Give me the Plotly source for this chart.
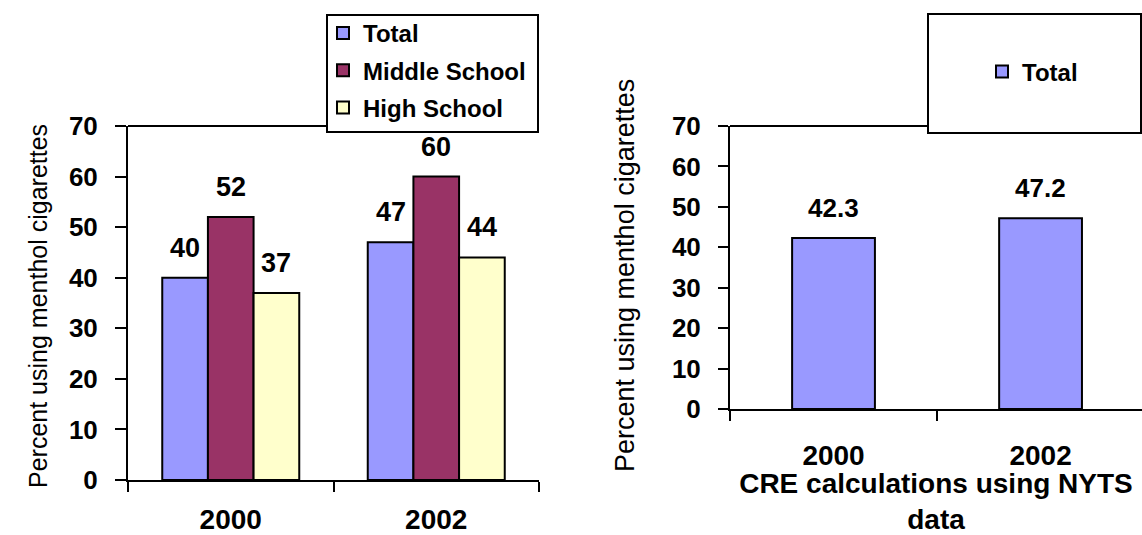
import plotly.graph_objects as go

# ---- data ----
years = ["2000", "2002"]
total = [40, 47]
middle_school = [52, 60]
high_school = [37, 44]
cre_years = ["2000", "2002"]
cre_total = [42.3, 47.2]

series = [("Total", total, "#9999FF"),
          ("Middle School", middle_school, "#993366"),
          ("High School", high_school, "#FFFFCC")]

W, H = 1142, 535
FONT = "Liberation Sans, Arial, sans-serif"

def px_x(x):
    return x / W

def px_y(y):
    return (H - y) / H

fig = go.Figure()

BARGAP = 1 / 3
n = len(series)
bw = (1 - BARGAP) / n
for k, (name, vals, color) in enumerate(series):
    fig.add_trace(go.Bar(
        x=years, y=vals, name=f"<b>{name}</b>", xaxis="x", yaxis="y",
        legend="legend", legendgroup=name,
        marker=dict(color=color, line=dict(color="black", width=2)),
    ))
    off = (k - (n - 1) / 2) * bw
    for i, v in enumerate(vals):
        fig.add_annotation(x=i + off, y=v, xref="x", yref="y", text=f"<b>{v:g}</b>",
                           showarrow=False, yshift=30, yanchor="middle",
                           font=dict(family=FONT, size=27, color="black"))

fig.add_trace(go.Bar(
    x=cre_years, y=cre_total, name="<b>Total</b>", xaxis="x2", yaxis="y2",
    legend="legend2", width=0.4,
    marker=dict(color="#9999FF", line=dict(color="black", width=2)),
))
for i, v in enumerate(cre_total):
    fig.add_annotation(x=i, y=v, xref="x2", yref="y2", text=f"<b>{v:g}</b>",
                       showarrow=False, yshift=30, yanchor="middle",
                       font=dict(family=FONT, size=26, color="black"))

axis_common = dict(showline=True, linecolor="black", linewidth=2, ticks="outside",
                   tickcolor="black", tickwidth=2, showgrid=False, zeroline=False,
                   automargin=False)

fig.update_layout(
    width=W, height=H, margin=dict(l=0, r=0, t=0, b=0, autoexpand=False),
    paper_bgcolor="white", plot_bgcolor="white",
    barmode="group", bargap=BARGAP, bargroupgap=0,
    font=dict(family=FONT, color="black"),
    xaxis=dict(domain=[px_x(128), px_x(539)], anchor="y", range=[-0.5, 1.5],
               tickson="boundaries", ticklen=10, ticklabelstandoff=13,
               tickfont=dict(size=28, family=FONT), tickprefix="<b>", ticksuffix="</b>",
               **axis_common),
    yaxis=dict(domain=[px_y(480), px_y(126)], anchor="x", range=[0, 70], dtick=10,
               ticklen=11, ticklabelstandoff=12,
               tickfont=dict(size=26, family=FONT), tickprefix="<b>", ticksuffix="</b>",
               **axis_common),
    xaxis2=dict(domain=[px_x(730), 1], anchor="y2", range=[-0.5, 1.49],
                tickson="boundaries", ticklen=10, ticklabelstandoff=20,
                tickfont=dict(size=28, family=FONT), tickprefix="<b>", ticksuffix="</b>",
                title=dict(text="<b>CRE calculations using NYTS<br>data</b>", standoff=4,
                           font=dict(size=28, family=FONT)),
                **axis_common),
    yaxis2=dict(domain=[px_y(409), px_y(126)], anchor="x2", range=[0, 70], dtick=10,
                ticklen=10, ticklabelstandoff=12,
                tickfont=dict(size=26, family=FONT), tickprefix="<b>", ticksuffix="</b>",
                **axis_common),
    legend=dict(x=px_x(323), y=px_y(70.5), xanchor="left", yanchor="middle",
                bgcolor="rgba(0,0,0,0)", borderwidth=0, tracegroupgap=3,
                font=dict(size=24, family=FONT, color="black")),
    legend2=dict(x=px_x(982), y=px_y(72), xanchor="left", yanchor="middle",
                 bgcolor="rgba(0,0,0,0)", borderwidth=0,
                 font=dict(size=24, family=FONT, color="black")),
    showlegend=True,
)

# y-axis titles
fig.add_annotation(x=px_x(22), y=px_y(306), xref="paper", yref="paper",
                   text="Percent using menthol cigarettes", textangle=-90, showarrow=False,
                   font=dict(size=25, family=FONT, color="black"))
fig.add_annotation(x=px_x(625), y=px_y(276), xref="paper", yref="paper",
                   text="Percent using menthol cigarettes", textangle=-90, showarrow=False,
                   font=dict(size=27, family=FONT, color="black"))

# plot-area top borders and legend boxes
fig.add_shape(type="line", xref="paper", yref="paper", x0=px_x(128), x1=px_x(327),
              y0=px_y(126), y1=px_y(126), line=dict(color="black", width=2), layer="above")
fig.add_shape(type="line", xref="paper", yref="paper", x0=px_x(730), x1=px_x(928),
              y0=px_y(126), y1=px_y(126), line=dict(color="black", width=2), layer="above")
fig.add_shape(type="rect", xref="paper", yref="paper", x0=px_x(327), x1=px_x(538),
              y0=px_y(132), y1=px_y(15), line=dict(color="black", width=2),
              fillcolor="white", layer="above")
fig.add_shape(type="rect", xref="paper", yref="paper", x0=px_x(928), x1=px_x(1141),
              y0=px_y(133), y1=px_y(14), line=dict(color="black", width=2),
              fillcolor="white", layer="above")

fig.write_html("out.html")
